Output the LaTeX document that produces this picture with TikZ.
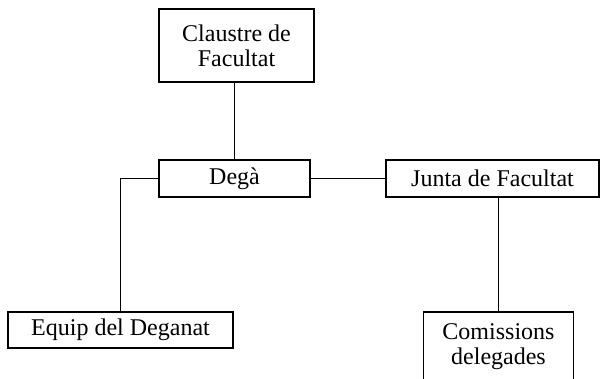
\documentclass[tikz,border=0pt]{standalone}
\usepackage{fontspec}
\setmainfont{Liberation Serif}
\usepackage{tikz}
\tikzset{orgbox/.style={
    draw, line width=0.6pt, inner sep=0pt, outer sep=0pt,
    align=center, font=\fontsize{12}{12.6}\selectfont
    }
}

\begin{document}
\begin{tikzpicture}[x=0.5pt, y=-0.5pt, line width=0.6pt]
        \clip (0, 0) rectangle (602, 379);
        \fill[white] (0, 0) rectangle (602, 379);

        \node[orgbox, minimum width=77.5pt, minimum height=36.5pt] (claustre) at (236.5, 45.5) {Claustre de\\Facultat};
        \node[orgbox, minimum width=75.5pt, minimum height=18.5pt] (dega) at (234.5, 178.5) {Degà};
        \node[orgbox, minimum width=106.5pt, minimum height=18.5pt] (junta) at (492.5, 178.5) {Junta de Facultat};
        \node[orgbox, minimum width=112.5pt, minimum height=18pt] (equip) at (120.5, 330) {Equip del Deganat};
        \node[orgbox, minimum width=75pt, minimum height=35pt] (comissions) at (498.5, 347) {Comissions\\delegades};

        \draw (dega.north |- claustre.south) -- (dega.north);
        \draw (dega.east) -- (junta.west);
        \draw (dega.west) -- (equip.north |- dega.west) -- (equip.north);
        \draw (junta.south -| comissions.north) -- (comissions.north);
    \end{tikzpicture}
\end{document}
